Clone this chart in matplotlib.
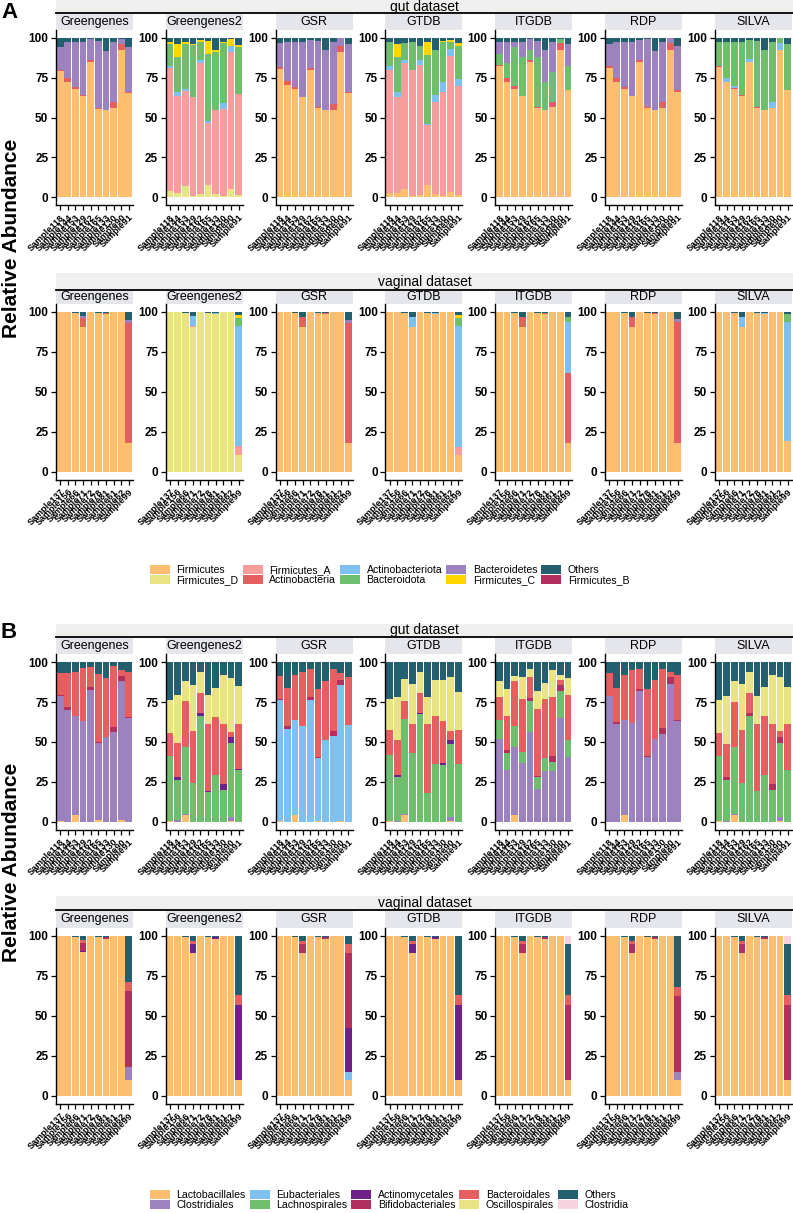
import numpy as np
import matplotlib.pyplot as plt
from matplotlib.patches import Patch

plt.rcParams['font.family'] = ['Liberation Sans', 'DejaVu Sans']

# --- 1. Samples, databases and taxa ---
databases = ["Greengenes", "Greengenes2", "GSR", "GTDB", "ITGDB", "RDP", "SILVA"]
gut_samples = ["Sample118", "Sample144", "Sample153", "Sample129", "Sample162",
               "Sample165", "Sample133", "Sample130", "Sample90", "Sample91"]
vag_samples = ["Sample137", "Sample156", "Sample66", "Sample71", "Sample72",
               "Sample78", "Sample81", "Sample61", "Sample62", "Sample99"]

# stacking order, bottom to top (also the legend order)
phyla = ["Firmicutes", "Firmicutes_D", "Firmicutes_A", "Actinobacteria", "Actinobacteriota",
         "Bacteroidota", "Bacteroidetes", "Firmicutes_C", "Others", "Firmicutes_B"]
phyla_colors = ["#FEBE6F", "#EAE384", "#F89C9C", "#E55F60", "#7FC1EE",
                "#6EBE6E", "#9C82BE", "#FFD600", "#245F6F", "#B2305E"]
orders = ["Lactobacillales", "Clostridiales", "Eubacteriales", "Lachnospirales", "Actinomycetales",
          "Bifidobacteriales", "Bacteroidales", "Oscillospirales", "Others", "Clostridia"]
orders_colors = ["#FEBE6F", "#9C82BE", "#7FC1EE", "#6EBE6E", "#6C2288",
                 "#B2305E", "#E55F60", "#EAE384", "#245F6F", "#F6D3DF"]

# --- 2. Panel A, gut (phylum level, %) ---
a_gut_greengenes = {
    "Firmicutes": [79, 72, 68, 63.5, 84.5, 55.5, 54.5, 56, 92.5, 65.5],
    "Actinobacteria": [1, 3, 1, 0.5, 1.5, 0.5, 0.5, 3.5, 3.5, 0.5],
    "Bacteroidetes": [14, 22, 28, 33, 13, 42, 36.5, 38, 3, 28],
    "Others": [6, 3, 3, 3, 1, 2, 8.5, 2.5, 1, 6],
}
a_gut_greengenes2 = {
    "Firmicutes_D": [4, 3, 7, 1, 2, 7.5, 2, 1, 5.5, 1.5],
    "Firmicutes_A": [77, 60.5, 59.5, 62, 82, 39, 52.5, 54.5, 85.5, 63.5],
    "Actinobacteriota": [1, 2.5, 1.5, 0, 2, 1, 0, 3.5, 4, 0],
    "Bacteroidota": [14, 22, 28, 32.5, 11.5, 42, 36.5, 37.5, 0, 29],
    "Firmicutes_C": [1, 8, 1, 0.5, 1, 8.5, 1, 1, 4, 1.5],
    "Others": [3, 4, 3, 4, 1.5, 2, 8, 2.5, 1, 4.5],
}
a_gut_gsr = {
    "Firmicutes": [80.5, 70.5, 68, 63, 79.5, 56, 55, 55, 91, 65.5],
    "Actinobacteria": [1, 2.5, 1, 0, 1.5, 0.5, 0, 3.5, 4, 0.5],
    "Bacteroidetes": [15, 24, 28.5, 34, 17.5, 41.5, 37, 39, 5, 30],
    "Others": [3.5, 3, 2.5, 3, 1.5, 2, 8, 2.5, 0, 4],
}
a_gut_gtdb = {
    "Firmicutes": [3, 3, 5.5, 1, 1.5, 7.5, 2, 1, 3.5, 1.5],
    "Firmicutes_A": [77, 60, 78.5, 78.5, 81.5, 37.5, 58, 65, 85, 68.5],
    "Actinobacteriota": [2, 3, 2, 0.5, 3, 1, 4, 6, 4.5, 4],
    "Bacteroidota": [15, 22, 10.5, 17, 9, 43, 28, 25, 4, 21],
    "Firmicutes_C": [0.5, 8, 0, 0, 0, 8, 0, 1, 1.5, 1.5],
    "Others": [2.5, 4, 3.5, 3, 5, 3, 8, 2, 1.5, 3.5],
}
a_gut_itgdb = {
    "Firmicutes": [82, 72.5, 68, 63.5, 84.5, 56, 55, 56.5, 92.5, 67],
    "Actinobacteria": [1, 2.5, 1.5, 0, 1.5, 0.5, 0, 3.5, 4, 0.5],
    "Bacteroidota": [6.5, 9, 24.5, 24.5, 6.5, 31.5, 17, 18.5, 2.5, 14.5],
    "Bacteroidetes": [7.5, 13, 3.5, 9, 6.5, 10, 20, 19, 0, 14],
    "Others": [3, 3, 2.5, 3, 1, 2, 8, 2.5, 1, 4],
}
a_gut_rdp = {
    "Firmicutes": [81, 72.5, 68, 63.5, 84.5, 56, 54.5, 56, 92.5, 66],
    "Actinobacteria": [1, 2.5, 1, 0, 1.5, 0.5, 0.5, 4, 4, 1],
    "Bacteroidetes": [14, 22, 28, 33.5, 12.5, 42.5, 36.5, 37.5, 3.5, 28],
    "Others": [4, 3, 3, 3, 1.5, 1, 8.5, 2.5, 0, 5],
}
a_gut_silva = {
    "Firmicutes": [81.5, 72.5, 68, 63.5, 84.5, 56, 55, 56, 92.5, 67],
    "Actinobacteria": [0.5, 0, 0.5, 0.5, 0, 0.5, 0, 0, 0, 0.5],
    "Actinobacteriota": [0, 2.5, 1, 0, 2, 0, 0, 4, 4, 0],
    "Bacteroidota": [15, 22, 28, 33, 12, 41.5, 37, 37.5, 3.5, 28.5],
    "Others": [3, 3, 2.5, 3, 1.5, 2, 8, 2.5, 0, 4],
}

# --- 3. Panel A, vaginal ---
a_vag_greengenes = {
    "Firmicutes": [100, 100, 99.5, 90.5, 100, 99.5, 99, 100, 100, 18],
    "Actinobacteria": [0, 0, 0, 6, 0, 0, 0.5, 0, 0, 75],
    "Bacteroidetes": [0, 0, 0, 1, 0, 0, 0, 0, 0, 2],
    "Others": [0, 0, 0.5, 2.5, 0, 0.5, 0.5, 0, 0, 5],
}
a_vag_greengenes2 = {
    "Firmicutes_D": [100, 100, 99.5, 90.5, 100, 99.5, 99, 100, 100, 10.5],
    "Firmicutes_A": [0, 0, 0, 0.5, 0, 0, 0, 0, 0, 5.5],
    "Actinobacteriota": [0, 0, 0, 6.5, 0, 0, 0.5, 0, 0, 75],
    "Bacteroidota": [0, 0, 0, 0, 0, 0, 0, 0, 0, 5],
    "Firmicutes_C": [0, 0, 0, 0, 0, 0, 0, 0, 0, 2],
    "Others": [0, 0, 0.5, 2.5, 0, 0.5, 0.5, 0, 0, 2],
}
a_vag_gsr = {
    "Firmicutes": [100, 100, 99.5, 90.5, 100, 99.5, 99, 100, 100, 18],
    "Actinobacteria": [0, 0, 0, 6.5, 0, 0, 0.5, 0, 0, 75],
    "Bacteroidetes": [0, 0, 0, 0, 0, 0, 0, 0, 0, 2],
    "Others": [0, 0, 0.5, 3, 0, 0.5, 0.5, 0, 0, 5],
}
a_vag_gtdb = {
    "Firmicutes": [100, 100, 99.5, 90.5, 100, 99.5, 99, 100, 100, 10.5],
    "Firmicutes_A": [0, 0, 0, 0, 0, 0, 0, 0, 0, 5],
    "Actinobacteriota": [0, 0, 0, 6.5, 0, 0, 0.5, 0, 0, 76],
    "Bacteroidota": [0, 0, 0, 0, 0, 0, 0, 0, 0, 4.5],
    "Firmicutes_C": [0, 0, 0, 0, 0, 0, 0, 0, 0, 2],
    "Others": [0, 0, 0.5, 3, 0, 0.5, 0.5, 0, 0, 2],
}
a_vag_itgdb = {
    "Firmicutes": [100, 100, 99.5, 90.5, 100, 99.5, 99, 100, 100, 18],
    "Actinobacteria": [0, 0, 0, 6.5, 0, 0, 0.5, 0, 0, 44],
    "Actinobacteriota": [0, 0, 0, 0, 0, 0, 0, 0, 0, 31.5],
    "Bacteroidota": [0, 0, 0, 0, 0, 0, 0, 0, 0, 3.5],
    "Others": [0, 0, 0.5, 3, 0, 0.5, 0.5, 0, 0, 3],
}
a_vag_rdp = {
    "Firmicutes": [100, 100, 99.5, 90.5, 100, 99.5, 99, 100, 100, 18],
    "Actinobacteria": [0, 0, 0, 6.5, 0, 0, 0.5, 0, 0, 75.5],
    "Bacteroidetes": [0, 0, 0, 0, 0, 0, 0, 0, 0, 2],
    "Others": [0, 0, 0.5, 3, 0, 0.5, 0.5, 0, 0, 4.5],
}
a_vag_silva = {
    "Firmicutes": [100, 100, 99.5, 90.5, 100, 99.5, 99, 100, 100, 19],
    "Actinobacteriota": [0, 0, 0, 6.5, 0, 0, 0.5, 0, 0, 75],
    "Bacteroidota": [0, 0, 0, 0, 0, 0, 0, 0, 0, 5],
    "Others": [0, 0, 0.5, 3, 0, 0.5, 0.5, 0, 0, 1],
}

# --- 4. Panel B, gut (order level, %) ---
b_gut_greengenes = {
    "Lactobacillales": [0.5, 0, 4, 0, 0, 1, 0, 0, 1, 0],
    "Clostridiales": [78.5, 70, 62, 63, 82.5, 48.5, 53, 56, 87, 65],
    "Bifidobacteriales": [0.5, 2, 0, 0, 2, 0.5, 0, 3.5, 3.5, 0.5],
    "Bacteroidales": [13.5, 21.5, 28, 33.5, 12.5, 42.5, 37, 38, 3.5, 28.5],
    "Others": [7, 6.5, 6, 3.5, 3, 7.5, 10, 2.5, 5, 6],
}
b_gut_greengenes2 = {
    "Lactobacillales": [0.5, 0, 4, 0, 0, 0, 0, 0, 0.5, 0],
    "Clostridiales": [0, 1, 1, 0, 0, 0, 0, 0, 2.5, 0],
    "Lachnospirales": [40.5, 25, 42, 24.5, 66.5, 18.5, 29, 20, 46.5, 32.5],
    "Actinomycetales": [0.5, 2, 0, 0, 1.5, 1, 0, 3.5, 3.5, 0.5],
    "Bacteroidales": [14, 21.5, 28.5, 32.5, 12.5, 42, 36.5, 38, 3.5, 28.5],
    "Oscillospirales": [21, 30, 12.5, 29, 13.5, 18, 18.5, 30.5, 33.5, 23.5],
    "Others": [23.5, 20.5, 12, 14, 6, 20.5, 16, 8, 10, 15],
}
b_gut_gsr = {
    "Lactobacillales": [0.5, 0, 4, 0, 0, 0.5, 0, 0, 0.5, 0],
    "Eubacteriales": [76, 58, 59.5, 60, 76.5, 39.5, 51, 53.5, 85, 60.5],
    "Bifidobacteriales": [0.5, 2, 0, 0, 1.5, 0.5, 0, 3.5, 3.5, 0],
    "Bacteroidales": [14.5, 24, 28.5, 34, 17.5, 42.5, 37.5, 39, 4.5, 30],
    "Others": [8.5, 16, 8, 6, 4.5, 17, 11.5, 4, 6.5, 9.5],
}
b_gut_gtdb = {
    "Lactobacillales": [0.5, 0, 4, 0, 0, 0, 0, 0, 0.5, 0],
    "Clostridiales": [0, 0.5, 1, 0, 0, 0, 0, 0, 2.5, 0],
    "Lachnospirales": [41.5, 27.5, 59.5, 43, 67.5, 18, 36.5, 35.5, 46, 36.5],
    "Actinomycetales": [0, 1.5, 0, 0, 1, 0, 0, 1.5, 2, 0],
    "Bacteroidales": [15.5, 21.5, 11.5, 18, 12.5, 43.5, 29.5, 26, 6, 21],
    "Oscillospirales": [19.5, 27, 13.5, 25.5, 13, 16.5, 23, 26, 33.5, 24],
    "Others": [23, 22, 10.5, 13.5, 6, 22, 11, 11, 9.5, 18.5],
}
b_gut_itgdb = {
    "Lactobacillales": [0, 0, 4, 0, 0, 0, 0, 0, 0, 0],
    "Clostridiales": [52, 32.5, 43, 37, 56, 20.5, 31.5, 31.5, 65, 40.5],
    "Lachnospirales": [11.5, 10.5, 13, 7, 20, 7.5, 8.5, 6, 17, 10.5],
    "Bifidobacteriales": [0, 2, 0, 0, 1.5, 0.5, 0, 3.5, 4, 0],
    "Bacteroidales": [14.5, 21.5, 28, 33, 13, 42, 37, 37.5, 3, 28.5],
    "Oscillospirales": [10, 16.5, 3.5, 14, 5, 11.5, 10, 16.5, 3, 10.5],
    "Others": [12, 17, 8.5, 9, 4.5, 18, 13, 5, 8, 10],
}
b_gut_rdp = {
    "Lactobacillales": [0, 0, 4, 0, 0, 0, 0, 0, 0, 0],
    "Clostridiales": [79, 61, 60, 62, 82, 40.5, 52, 55, 86.5, 63],
    "Bifidobacteriales": [0, 1.5, 0, 0, 1.5, 0.5, 0, 3.5, 4, 0.5],
    "Bacteroidales": [14, 21.5, 28, 33, 12.5, 42.5, 37, 37.5, 3.5, 28.5],
    "Others": [7, 16, 8, 5, 4, 16.5, 11, 4, 6, 8],
}
b_gut_silva = {
    "Lactobacillales": [0.5, 0, 4, 0, 0, 0, 0, 0, 0.5, 0],
    "Clostridiales": [0, 0.5, 1, 0, 0, 0, 0, 0, 2.5, 0],
    "Lachnospirales": [40.5, 25.5, 42, 24.5, 66.5, 19, 29, 20, 46.5, 32.5],
    "Bifidobacteriales": [0, 2, 0, 0, 1.5, 0, 0, 3.5, 3.5, 0],
    "Bacteroidales": [14.5, 21, 28, 33, 12.5, 42.5, 37, 38, 4, 28.5],
    "Oscillospirales": [21, 30, 13, 29, 13.5, 17.5, 18.5, 30.5, 33.5, 23.5],
    "Others": [23.5, 21, 12, 13.5, 6, 21, 15.5, 8, 9.5, 15.5],
}

# --- 5. Panel B, vaginal ---
b_vag_greengenes = {
    "Lactobacillales": [100, 100, 99.5, 90, 100, 99, 98, 100, 100, 10],
    "Clostridiales": [0, 0, 0, 0, 0, 0, 0, 0, 0, 8],
    "Actinomycetales": [0, 0, 0, 0.5, 0, 0, 0, 0, 0, 0],
    "Bifidobacteriales": [0, 0, 0, 5, 0, 0, 1, 0, 0, 47.5],
    "Bacteroidales": [0, 0, 0, 2, 0, 0, 0, 0, 0, 5.5],
    "Others": [0, 0, 0.5, 2.5, 0, 1, 1, 0, 0, 29],
}
b_vag_greengenes2 = {
    "Lactobacillales": [100, 100, 99.5, 89.5, 100, 99, 98, 100, 100, 10],
    "Actinomycetales": [0, 0, 0, 5.5, 0, 0, 1, 0, 0, 47],
    "Bacteroidales": [0, 0, 0, 2, 0, 0, 0, 0, 0, 6],
    "Others": [0, 0, 0.5, 3, 0, 1, 1, 0, 0, 37],
}
b_vag_gsr = {
    "Lactobacillales": [100, 100, 99.5, 89.5, 100, 99, 98, 100, 100, 10],
    "Eubacteriales": [0, 0, 0, 0, 0, 0, 0, 0, 0, 5],
    "Actinomycetales": [0, 0, 0, 0, 0, 0, 0, 0, 0, 27.5],
    "Bifidobacteriales": [0, 0, 0, 5.5, 0, 0, 1, 0, 0, 47],
    "Bacteroidales": [0, 0, 0, 2, 0, 0, 0, 0, 0, 5.5],
    "Others": [0, 0, 0.5, 3, 0, 1, 1, 0, 0, 5],
}
b_vag_gtdb = {
    "Lactobacillales": [100, 100, 99.5, 89.5, 100, 99, 98, 100, 100, 10],
    "Actinomycetales": [0, 0, 0, 5.5, 0, 0, 1, 0, 0, 47],
    "Bacteroidales": [0, 0, 0, 2, 0, 0, 0, 0, 0, 6],
    "Others": [0, 0, 0.5, 3, 0, 1, 1, 0, 0, 37],
}
b_vag_itgdb = {
    "Lactobacillales": [100, 100, 99.5, 89.5, 100, 99, 98, 100, 100, 10],
    "Bifidobacteriales": [0, 0, 0, 5.5, 0, 0, 1, 0, 0, 47],
    "Bacteroidales": [0, 0, 0, 2, 0, 0, 0, 0, 0, 6],
    "Others": [0, 0, 0.5, 3, 0, 1, 1, 0, 0, 32],
    "Clostridia": [0, 0, 0, 0, 0, 0, 0, 0, 0, 5],
}
b_vag_rdp = {
    "Lactobacillales": [100, 100, 99.5, 89.5, 100, 99, 98, 100, 100, 10],
    "Clostridiales": [0, 0, 0, 0, 0, 0, 0, 0, 0, 5],
    "Bifidobacteriales": [0, 0, 0, 5.5, 0, 0, 1, 0, 0, 47.5],
    "Bacteroidales": [0, 0, 0, 2, 0, 0, 0, 0, 0, 5.5],
    "Others": [0, 0, 0.5, 3, 0, 1, 1, 0, 0, 32],
}
b_vag_silva = {
    "Lactobacillales": [100, 100, 99.5, 89.5, 100, 99, 98, 100, 100, 10],
    "Bifidobacteriales": [0, 0, 0, 5.5, 0, 0, 1, 0, 0, 47],
    "Bacteroidales": [0, 0, 0, 2, 0, 0, 0, 0, 0, 6],
    "Others": [0, 0, 0.5, 3, 0, 1, 1, 0, 0, 32],
    "Clostridia": [0, 0, 0, 0, 0, 0, 0, 0, 0, 5],
}

a_gut = [a_gut_greengenes, a_gut_greengenes2, a_gut_gsr, a_gut_gtdb, a_gut_itgdb, a_gut_rdp, a_gut_silva]
a_vag = [a_vag_greengenes, a_vag_greengenes2, a_vag_gsr, a_vag_gtdb, a_vag_itgdb, a_vag_rdp, a_vag_silva]
b_gut = [b_gut_greengenes, b_gut_greengenes2, b_gut_gsr, b_gut_gtdb, b_gut_itgdb, b_gut_rdp, b_gut_silva]
b_vag = [b_vag_greengenes, b_vag_greengenes2, b_vag_gsr, b_vag_gtdb, b_vag_itgdb, b_vag_rdp, b_vag_silva]

# --- 6. Layout (pixels) ---
W, H = 793, 1213
fig = plt.figure(figsize=(W / 100, H / 100), dpi=100)

def px(x0, y0, w, h):
    return [x0 / W, 1 - (y0 + h) / H, w / W, h / H]

facet_left = [56 + 109.8 * i for i in range(7)]
facet_w = 77
strip_bg = "#E4E6EB"
span_bg = "#EFEFEF"

def draw_row(facets, samples, taxa, colors, title, span, strip, axes_tb):
    # spanning dataset strip
    sax = fig.add_axes(px(56, span[0], W - 56, span[1] - span[0]))
    sax.set_facecolor(span_bg)
    sax.set_xticks([])
    sax.set_yticks([])
    for name, sp in sax.spines.items():
        sp.set_visible(name == "bottom")
    sax.spines["bottom"].set_linewidth(1.3)
    sax.text(0.5, 0.5, title, ha="center", va="center", fontsize=10, transform=sax.transAxes)

    x = np.arange(1, 11)
    for i, (db, data) in enumerate(zip(databases, facets)):
        # database strip
        fax = fig.add_axes(px(facet_left[i], strip[0], facet_w, strip[1] - strip[0]))
        fax.set_facecolor(strip_bg)
        fax.set_xticks([])
        fax.set_yticks([])
        for sp in fax.spines.values():
            sp.set_visible(False)
        fax.text(0.5, 0.5, db, ha="center", va="center", fontsize=9, transform=fax.transAxes)

        ax = fig.add_axes(px(facet_left[i], axes_tb[0], facet_w, axes_tb[1] - axes_tb[0]))
        bottom = np.zeros(10)
        for taxon, col in zip(taxa, colors):
            if taxon not in data:
                continue
            vals = np.array(data[taxon], dtype=float)
            ax.bar(x, vals, bottom=bottom, width=0.88, color=col, linewidth=0)
            bottom += vals
        ax.set_xlim(0.45, 10.55)
        ax.set_ylim(-5, 105)
        ax.set_yticks([0, 25, 50, 75, 100])
        ax.set_yticklabels(["0", "25", "50", "75", "100"], fontsize=8.5, fontweight="bold")
        ax.set_xticks(x)
        ax.set_xticklabels(samples, rotation=45, ha="right", va="top",
                           rotation_mode="anchor", fontsize=6.6, fontweight="bold")
        ax.tick_params(axis="both", length=3.5, width=0.9, pad=2)
        ax.spines["top"].set_visible(False)
        ax.spines["right"].set_visible(False)
        ax.spines["left"].set_linewidth(1.0)
        ax.spines["bottom"].set_linewidth(1.0)

# Panel A
draw_row(a_gut, gut_samples, phyla, phyla_colors, "gut dataset", (0, 13), (13.5, 29.7), (29.7, 205.3))
draw_row(a_vag, vag_samples, phyla, phyla_colors, "vaginal dataset", (273, 290), (290.5, 304), (304, 479.7))
# Panel B
draw_row(b_gut, gut_samples, orders, orders_colors, "gut dataset", (623.5, 636.5), (637.5, 654.3), (654.3, 829.7))
draw_row(b_vag, vag_samples, orders, orders_colors, "vaginal dataset", (896, 910), (910.5, 927.7), (927.7, 1103.7))

# legends (column-major, two rows)
for taxa, colors, ytop in [(phyla, phyla_colors, 565), (orders, orders_colors, 1190)]:
    handles = [Patch(facecolor=c, edgecolor="none") for c in colors]
    fig.legend(handles, taxa, ncol=5, loc="upper left",
               bbox_to_anchor=(150 / W, 1 - ytop / H), frameon=False,
               fontsize=7.6, handlelength=1.9, handleheight=0.95,
               handletextpad=0.62, columnspacing=0.37, labelspacing=0,
               borderpad=0, borderaxespad=0)

# axis title and panel letters
fig.text(12 / W, 1 - 238 / H, "Relative Abundance", rotation=90, ha="center", va="center",
         fontsize=15, fontweight="bold")
fig.text(12 / W, 1 - 862 / H, "Relative Abundance", rotation=90, ha="center", va="center",
         fontsize=15, fontweight="bold")
fig.text(1 / W, 1 - 12 / H, "A", ha="left", va="center", fontsize=16, fontweight="bold")
fig.text(1 / W, 1 - 632 / H, "B", ha="left", va="center", fontsize=16, fontweight="bold")

fig.savefig("out.png", dpi=100, facecolor="white")
